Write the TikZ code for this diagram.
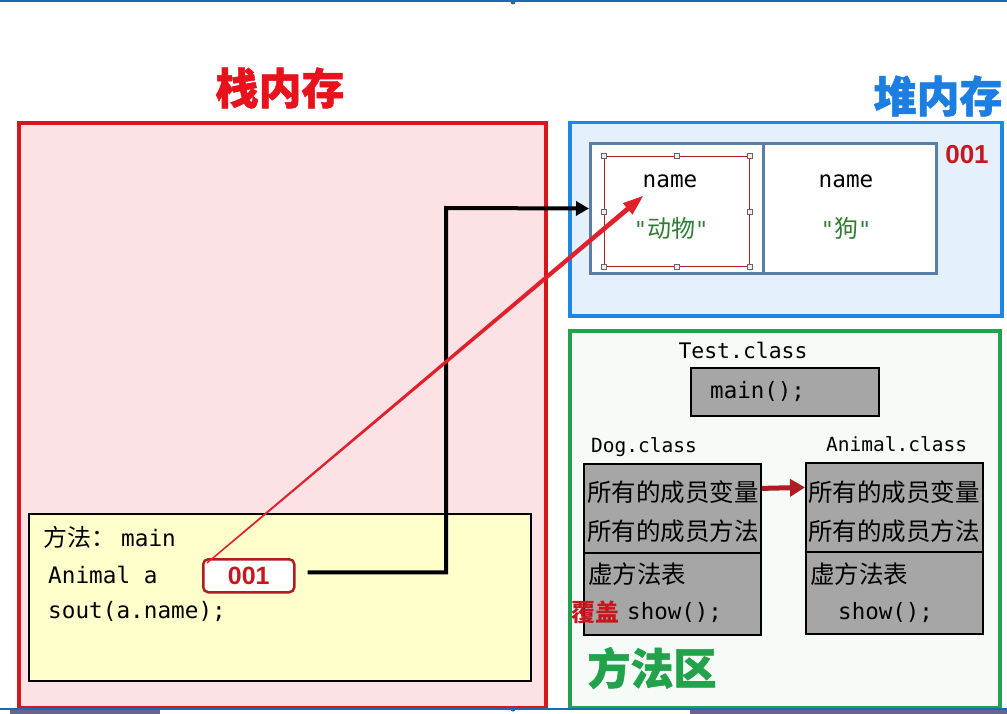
\documentclass[tikz,border=0pt]{standalone}
\usepackage{fontspec}
\newfontfamily\cjk{Noto Sans CJK SC}
\newfontfamily\cjkh[BoldFeatures={FakeBold=1.2}]{Noto Sans CJK SC}
\newfontfamily\mono{DejaVu Sans Mono}
\newfontfamily\lsans{Liberation Sans}
\usetikzlibrary{arrows.meta,calc}
\definecolor{stackred}{HTML}{D9151E}
\definecolor{stackfill}{HTML}{FDE2E5}
\definecolor{heapblue}{HTML}{1E86E3}
\definecolor{heapfill}{HTML}{E4F0FB}
\definecolor{cellblue}{HTML}{5B7EA6}
\definecolor{areagreen}{HTML}{22A34B}
\definecolor{areafill}{HTML}{F6FBF7}
\definecolor{boxgray}{HTML}{A6A6A6}
\definecolor{framefill}{HTML}{FFFFCC}
\definecolor{darkred}{HTML}{B01C24}
\definecolor{numred}{HTML}{C8161E}
\definecolor{strgreen}{HTML}{2E7D32}
\definecolor{titlered}{HTML}{E8121C}
\definecolor{titleblue}{HTML}{1C7EE0}
\definecolor{arrowred}{HTML}{E0202A}
\begin{document}
\begin{tikzpicture}[x=1pt,y=-1pt,
  region/.style={draw, anchor=north west, inner sep=0pt},
  cell/.style={draw=cellblue, line width=3pt, fill=white, anchor=north west, inner sep=0pt, minimum width=173pt, minimum height=130pt},
  classbox/.style={draw=black, line width=1.8pt, fill=boxgray, anchor=north west, inner sep=0pt, minimum width=177pt},
  handle/.style={draw=gray!80!black, fill=gray!15, minimum size=5pt, inner sep=0pt, line width=0.8pt},
  code/.style={font=\mono\fontsize{22.7}{27}\selectfont, inner sep=0pt},
  cn/.style={font=\cjk\fontsize{24.5}{29}\selectfont, inner sep=0pt},
  title/.style={font=\cjkh\bfseries\fontsize{43}{47}\selectfont, inner sep=0pt}]
\useasboundingbox (0,0) rectangle (1007,714);
\fill[white] (0,0) rectangle (1007,714);
% top screen line
\draw[heapblue!80!black, line width=2pt] (0,1) -- (1007,1);
\fill[heapblue!80!black] (513,2) circle (2.5pt);
% titles
\node[title, text=titlered] (stackT) at (280,88) {栈内存};
\node[title, text=titleblue] (heapT) at (938,96) {堆内存};
% stack
\node[region, draw=stackred, line width=4pt, fill=stackfill, minimum width=527pt, minimum height=585pt] (stack) at (17,121) {};
% heap
\node[region, draw=heapblue, line width=3.5pt, fill=heapfill, minimum width=432pt, minimum height=193pt] (heap) at (568,121) {};
\node[cell] (cellA) at (589,142) {};
\node[cell] (cellB) at (762,142) {};
\node[region, draw=darkred, line width=1.2pt, minimum width=145pt, minimum height=110pt] (sel) at (604,156) {};
\foreach \a in {north west,north,north east,west,east,south west,south,south east}
  \node[handle] at (sel.\a) {};
\node[code] (nameA) at (670,181) {name};
\node[code] (nameB) at (846,181) {name};
\node[inner sep=0pt, text=strgreen] (valA) at (671,228) {{\mono\fontsize{22}{26}\selectfont"}{\cjk\fontsize{24}{28}\selectfont 动物}{\mono\fontsize{22}{26}\selectfont"}};
\node[inner sep=0pt, text=strgreen] (valB) at (846,228) {{\mono\fontsize{22}{26}\selectfont"}{\cjk\fontsize{24}{28}\selectfont 狗}{\mono\fontsize{22}{26}\selectfont"}};
\node[font=\lsans\bfseries\fontsize{26}{30}\selectfont, text=numred, inner sep=0pt] (addr) at (967,155) {001};
% method area
\node[region, draw=areagreen, line width=3.5pt, fill=areafill, minimum width=430pt, minimum height=377pt] (area) at (568,329) {};
\node[code, font=\mono\fontsize{21.4}{25}\selectfont] (testT) at (743,350) {Test.class};
\node[draw=black, line width=1.8pt, fill=boxgray, anchor=north west, inner sep=0pt, minimum width=188pt, minimum height=48pt] (mainbox) at (690,367) {};
\node[code, font=\mono\fontsize{22.5}{26}\selectfont, anchor=west] (mainT) at (710,392) {main();};
\node[code, font=\mono\fontsize{19.5}{24}\selectfont, anchor=west] (dogT) at (591,447) {Dog.class};
\node[code, font=\mono\fontsize{19.5}{24}\selectfont, anchor=west] (aniT) at (826,444) {Animal.class};
\node[classbox, minimum height=89pt] (dogTop) at (583,463) {};
\node[classbox, minimum height=82pt] (dogBot) at (583,552) {};
\node[classbox, minimum height=89pt] (aniTop) at (805,462) {};
\node[classbox, minimum height=82pt] (aniBot) at (805,551) {};
\node[cn, anchor=west] (d1) at (587,492) {所有的成员变量};
\node[cn, anchor=west] (d2) at (587,531) {所有的成员方法};
\node[cn, anchor=west] (d3) at (588,574) {虚方法表};
\node[cn, anchor=west, font=\cjk\bfseries\fontsize{24}{28}\selectfont, text=numred] (d4) at (571,612) {覆盖};
\node[code, font=\mono\fontsize{22.5}{26}\selectfont, anchor=west] (d5) at (627,613) {show();};
\node[cn, anchor=west] (a1) at (808,492) {所有的成员变量};
\node[cn, anchor=west] (a2) at (808,531) {所有的成员方法};
\node[cn, anchor=west] (a3) at (810,574) {虚方法表};
\node[code, font=\mono\fontsize{22.5}{26}\selectfont, anchor=west] (a5) at (838,613) {show();};
\draw[-{Triangle[length=15pt,width=17pt]}, line width=5pt, draw=darkred] ([yshift=20pt]dogTop.east) -- ([yshift=20pt]aniTop.west);
\node[title, text=areagreen] (areaT) at (652,668) {方法区};
% stack frame
\node[region, draw=black, line width=1.5pt, fill=framefill, minimum width=502pt, minimum height=167pt] (frame) at (28,513) {};
\node[anchor=west, inner sep=0pt] (f1) at (43,537) {{\cjk\fontsize{24}{28}\selectfont 方法：}\hspace{6pt}{\mono\fontsize{22.7}{27}\selectfont main}};
\node[code, anchor=west] (f2) at (48,575) {Animal a};
\node[code, anchor=west] (f3) at (48,611) {sout(a.name);};
\node[draw=darkred, line width=2.5pt, fill=white, rounded corners=5pt, anchor=north west, inner sep=0pt, minimum width=91pt, minimum height=33pt, font=\lsans\bfseries\fontsize{25}{29}\selectfont, text=numred] (ref) at (202,558) {001};
% connectors
\draw[line width=4pt, -{Triangle[length=13pt,width=14pt]}] ([xshift=12pt,yshift=3.5pt]ref.east) -| (446,208) -- (cellA.west);
\coordinate (rs) at ([xshift=5pt,yshift=-5pt]ref.north west);
\coordinate (rt) at (643,196);
\coordinate (re) at ($(rt)!20pt!(rs)$);
\fill[arrowred] ($(rs)!0.7pt!90:(re)$) -- ($(re)!2.4pt!-90:(rs)$) -- ($(re)!7.5pt!-90:(rs)$) -- (rt)
  -- ($(re)!7.5pt!90:(rs)$) -- ($(re)!2.4pt!90:(rs)$) -- ($(rs)!0.7pt!-90:(re)$) -- cycle;
% bottom screen line
\fill[black!75!blue!60] (10,710) rectangle (160,714);
\fill[black!75!blue!60] (690,710) rectangle (1007,714);
\draw[heapblue!80!black, line width=1.2pt] (0,709) -- (1007,709);
\fill[heapblue!80!black] (513,709) circle (2.5pt);
\end{tikzpicture}
\end{document}
